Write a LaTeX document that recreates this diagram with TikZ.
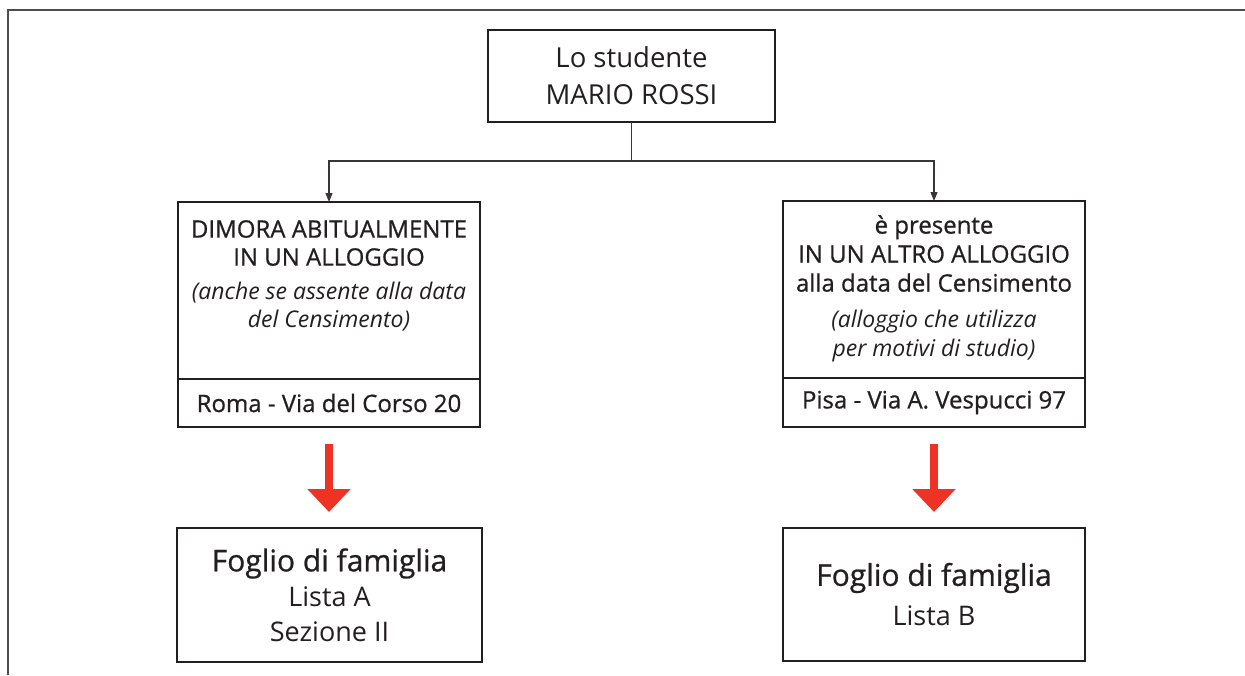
\documentclass[tikz,border=0pt]{standalone}
\usepackage{fontspec}
\setmainfont{Open Sans}
\newfontfamily\sansreg{Open Sans}[FakeBold=0.8]
\usetikzlibrary{arrows.meta,positioning}
\definecolor{inkgrey}{RGB}{35,31,32}
\definecolor{censusred}{RGB}{238,50,36}
\tikzset{
	box/.style={draw=inkgrey, line width=2pt, inner sep=0pt, outer sep=0pt, text=inkgrey, align=center},
	boxtext/.style={inner sep=0pt, text=inkgrey, align=center, font=\fontsize{23}{28}\selectfont},
	link/.style={draw=inkgrey!90, line width=1.1pt, -{Triangle[length=9pt,width=7pt]}},
	bigarrow/.style={draw=censusred, line width=8pt, -{Triangle[length=23pt,width=42pt]}},
	frame/.style={draw=inkgrey!80, line width=1.5pt}
}
\newcommand{\regline}[1]{{\sansreg\fontsize{24}{28}\selectfont #1}}
\begin{document}
\begin{tikzpicture}[x=1pt,y=-1pt]
			\useasboundingbox (0,0) rectangle (1245,675);
			\draw[frame](8,675)--(8,10)--(1245,10);
			% student
			\node[box, minimum width=287pt, minimum height=92pt, font=\fontsize{27.5}{37}\selectfont] (studente) at (631.5,76) {Lo studente\\MARIO ROSSI};
			\coordinate (split) at (631.5,161);
			% the two dwellings
			\node[box, minimum width=302pt, minimum height=177pt] (dimora) at (329,290.5) {};
			\node[boxtext, below=18pt of dimora.north] (dimoratxt) {\regline{DIMORA ABITUALMENTE}\\\regline{IN UN ALLOGGIO}\\[6pt]\textit{(anche se assente alla data}\\\textit{del Censimento)}};
			\node[box, minimum width=302pt, minimum height=48pt, font=\sansreg\fontsize{24}{25}\selectfont, below=0pt of dimora] (roma) {Roma - Via del Corso 20};
			\node[box, minimum width=302pt, minimum height=177pt] (presente) at (934,289.5) {};
			\node[boxtext, below=14pt of presente.north, font=\fontsize{23}{29}\selectfont] (presentetxt) {\regline{è presente}\\\regline{IN UN ALTRO ALLOGGIO}\\\regline{alla data del Censimento}\\[7pt]\textit{(alloggio che utilizza}\\\textit{per motivi di studio)}};
			\node[box, minimum width=302pt, minimum height=49pt, font=\sansreg\fontsize{24}{25}\selectfont, below=0pt of presente] (pisa) {Pisa - Via A. Vespucci 97};
			\draw[link](studente.south)--(split)-|(dimora.north);
			\draw[link](split)-|(presente.north);
			% family sheets
			\node[box, minimum width=305pt, minimum height=134pt, font=\fontsize{27}{35}\selectfont] (foglioA) at (329.5,595) {{\sansreg\fontsize{30}{35}\selectfont Foglio di famiglia}\\Lista A\\Sezione II};
			\node[box, minimum width=302pt, minimum height=133pt, font=\fontsize{27}{35}\selectfont] (foglioB) at (934,594.5) {{\sansreg\fontsize{30}{35}\selectfont Foglio di famiglia}\\[5pt]Lista B};
			\draw[bigarrow]([yshift=-17pt]roma.south)--([yshift=16pt]roma.south|-foglioA.north);
			\draw[bigarrow]([yshift=-17pt]pisa.south)--([yshift=16pt]pisa.south|-foglioB.north);
		\end{tikzpicture}
\end{document}
